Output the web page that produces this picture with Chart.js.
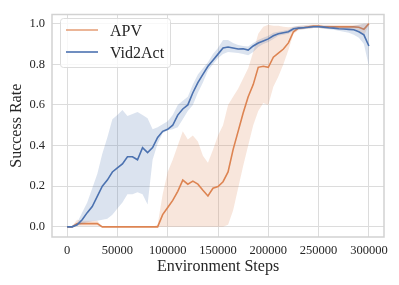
<!DOCTYPE html>
<html>
<head>
<meta charset="utf-8">
<script src="https://cdn.jsdelivr.net/npm/chart.js@4.4.0/dist/chart.umd.min.js"></script>
<style>
html,body{margin:0;padding:0;background:#fff;}
#wrap{width:399px;height:285px;}
</style>
</head>
<body>
<div id="wrap"><canvas id="successChart" width="399" height="285"></canvas></div>
<script>
"use strict"
// environment steps (x values)
var steps = [0,5000,10000,15000,20000,25000,30000,35000,40000,45000,
  50000,55000,60000,65000,70000,75000,80000,85000,90000,95000,
  100000,105000,110000,115000,120000,125000,130000,135000,140000,145000,
  150000,155000,160000,165000,170000,175000,180000,185000,190000,195000,
  200000,205000,210000,215000,220000,225000,230000,235000,240000,245000,
  250000,255000,260000,265000,270000,275000,280000,285000,290000,295000,300000];

var seriesNames = ["APV", "Vid2Act"];

//APV mean + band
var apvMean = [0,0,0.016,0.016,0.016,0.016,0.016,0,0,0,
  0,0,0,0,0,0,0,0,0,0.06,
  0.095,0.13,0.175,0.23,0.21,0.225,0.21,0.18,0.152,0.19,
  0.198,0.222,0.27,0.38,0.47,0.56,0.64,0.7,0.785,0.79,
  0.785,0.835,0.855,0.875,0.905,0.96,0.978,0.98,0.985,0.988,
  0.988,0.985,0.984,0.984,0.984,0.984,0.984,0.984,0.982,0.972,1.0];
var apvLow = [0,0,0.004,0.005,0.005,0.005,0.005,0,0,0,
  0,0,0,0,0,0,0,0,0,0,
  0,0,0,0,0,0,0,0,0,0,
  0,0,0.01,0.08,0.19,0.3,0.4,0.5,0.57,0.61,
  0.6,0.69,0.74,0.8,0.87,0.95,0.968,0.972,0.975,0.978,
  0.978,0.975,0.974,0.974,0.973,0.973,0.972,0.972,0.966,0.94,0.995];
var apvHigh = [0,0.004,0.035,0.03,0.03,0.03,0.03,0,0,0,
  0,0,0,0,0,0,0,0,0.01,0.16,
  0.27,0.33,0.4,0.47,0.43,0.45,0.42,0.35,0.315,0.38,
  0.45,0.5,0.6,0.64,0.68,0.73,0.78,0.86,0.95,0.985,
  0.995,0.99,0.99,0.985,0.982,0.985,0.99,0.992,0.994,0.996,
  0.996,0.995,0.994,0.994,0.994,0.994,0.994,0.994,0.996,1.0,1.0];

//Vid2Act mean + band
var vidMean = [0,0,0.01,0.035,0.07,0.1,0.15,0.2,0.23,0.27,
  0.29,0.31,0.345,0.345,0.33,0.39,0.365,0.39,0.44,0.47,
  0.48,0.5,0.55,0.58,0.6,0.66,0.71,0.75,0.79,0.82,
  0.85,0.88,0.885,0.88,0.875,0.876,0.87,0.89,0.905,0.915,
  0.925,0.94,0.95,0.955,0.96,0.975,0.978,0.98,0.982,0.985,
  0.985,0.983,0.98,0.978,0.975,0.974,0.972,0.97,0.96,0.945,0.89];
var vidLow = [0,0,0.005,0.015,0.022,0.027,0.03,0.035,0.04,0.06,
  0.09,0.12,0.16,0.16,0.17,0.16,0.11,0.33,0.41,0.46,
  0.475,0.48,0.49,0.53,0.57,0.6,0.66,0.71,0.77,0.8,
  0.83,0.85,0.86,0.858,0.855,0.85,0.845,0.86,0.885,0.9,
  0.91,0.925,0.94,0.945,0.95,0.965,0.97,0.972,0.975,0.978,
  0.98,0.975,0.972,0.97,0.965,0.96,0.955,0.945,0.93,0.9,0.79];
var vidHigh = [0,0.005,0.02,0.07,0.12,0.19,0.26,0.36,0.44,0.53,
  0.55,0.575,0.545,0.555,0.565,0.55,0.535,0.48,0.49,0.505,
  0.52,0.55,0.6,0.62,0.64,0.7,0.75,0.78,0.81,0.85,
  0.88,0.92,0.92,0.905,0.895,0.89,0.888,0.905,0.92,0.93,
  0.94,0.955,0.96,0.965,0.97,0.985,0.988,0.99,0.99,0.992,
  0.992,0.99,0.99,0.988,0.985,0.985,0.985,0.99,0.995,1.0,1.0];

var xTicks = [0,50000,100000,150000,200000,250000,300000];
var yTicks = [0,0.2,0.4,0.6,0.8,1.0];
var xTitle = "Environment Steps";
var yTitle = "Success Rate";

var orange = "rgb(221,132,82)";
var orangeFill = "rgba(221,132,82,0.2)";
var blue = "rgb(76,114,176)";
var blueFill = "rgba(76,114,176,0.2)";
var textColor = "#262626";
var serif = "'Liberation Serif', 'Times New Roman', serif";

function pts(ys) {//pair x steps with y values
  return steps.map(function(s, i) { return {x: s, y: ys[i]}; });
}

function band(ys, fillColor, order, isUpper) {
  return {
    data: pts(ys),
    borderWidth: 0,
    borderColor: "rgba(0,0,0,0)",
    backgroundColor: fillColor,
    pointRadius: 0,
    fill: isUpper ? "-1" : false,
    order: order
  };
}

function meanLine(label, ys, color, order) {
  return {
    label: label,
    data: pts(ys),
    borderColor: color,
    borderWidth: 1.6,
    pointRadius: 0,
    fill: false,
    order: order
  };
}

//frame round the plot area (light gray spines)
var framePlugin = {
  id: "frame",
  afterDatasetsDraw: function(chart) {
    var a = chart.chartArea, ctx = chart.ctx;
    ctx.save();
    ctx.strokeStyle = "#d2d2d2";
    ctx.lineWidth = 1.5;
    ctx.strokeRect(a.left, a.top, a.right - a.left, a.bottom - a.top);
    ctx.restore();
  }
};

//legend drawn inside the plot, upper left
var legendPlugin = {
  id: "innerLegend",
  afterDraw: function(chart) {
    var ctx = chart.ctx;
    var colors = ["rgba(221,132,82,0.75)", blue];
    ctx.save();
    ctx.beginPath();
    ctx.roundRect(60.5, 18.5, 110, 49, 3);
    ctx.fillStyle = "rgba(255,255,255,0.8)";
    ctx.fill();
    ctx.strokeStyle = "#dcdcdc";
    ctx.lineWidth = 1;
    ctx.stroke();
    ctx.font = "16px " + serif;
    ctx.textBaseline = "middle";
    ctx.textAlign = "left";
    seriesNames.forEach(function(name, i) {
      var y = 30 + i * 22;
      ctx.beginPath();
      ctx.moveTo(66, y);
      ctx.lineTo(98, y);
      ctx.strokeStyle = colors[i];
      ctx.lineWidth = 1.6;
      ctx.stroke();
      ctx.fillStyle = textColor;
      ctx.fillText(name, 110, y + 1.5);
    });
    ctx.restore();
  }
};

var ctxEl = document.getElementById("successChart");
var successChart = new Chart(ctxEl, {
  type: "line",
  data: {
    datasets: [
      band(apvLow, orangeFill, 6, false),
      band(apvHigh, orangeFill, 5, true),
      meanLine(seriesNames[0], apvMean, orange, 4),
      band(vidLow, blueFill, 3, false),
      band(vidHigh, blueFill, 2, true),
      meanLine(seriesNames[1], vidMean, blue, 1)
    ]
  },
  options: {
    responsive: false,
    animation: false,
    devicePixelRatio: 1,
    layout: {padding: {top: 10, right: 15, bottom: 0, left: 0}},
    plugins: {
      legend: {display: false},
      tooltip: {enabled: false}
    },
    elements: {line: {tension: 0}},
    scales: {
      x: {
        type: "linear",
        min: -15000,
        max: 315000,
        afterBuildTicks: function(s) { s.ticks = xTicks.map(function(v) { return {value: v}; }); },
        afterFit: function(s) { s.height = 48; },
        ticks: {
          autoSkip: false,
          maxRotation: 0,
          padding: 6,
          color: textColor,
          font: {family: serif, size: 12.5},
          callback: function(v) { return String(v); }
        },
        grid: {color: "#dcdcdc", lineWidth: 1, drawTicks: false},
        border: {display: false},
        title: {
          display: true,
          text: xTitle,
          color: textColor,
          font: {family: serif, size: 16},
          padding: {top: 0, bottom: 9}
        }
      },
      y: {
        type: "linear",
        min: -0.05,
        max: 1.045,
        afterBuildTicks: function(s) { s.ticks = yTicks.map(function(v) { return {value: v}; }); },
        afterFit: function(s) { s.width = 52; },
        ticks: {
          padding: 7,
          color: textColor,
          font: {family: serif, size: 12.5},
          callback: function(v) { return v.toFixed(1); }
        },
        grid: {color: "#dcdcdc", lineWidth: 1, drawTicks: false},
        border: {display: false},
        title: {
          display: true,
          text: yTitle,
          color: textColor,
          font: {family: serif, size: 16},
          padding: {top: 7, bottom: 0}
        }
      }
    }
  },
  plugins: [framePlugin, legendPlugin]
});
</script>
</body>
</html>
